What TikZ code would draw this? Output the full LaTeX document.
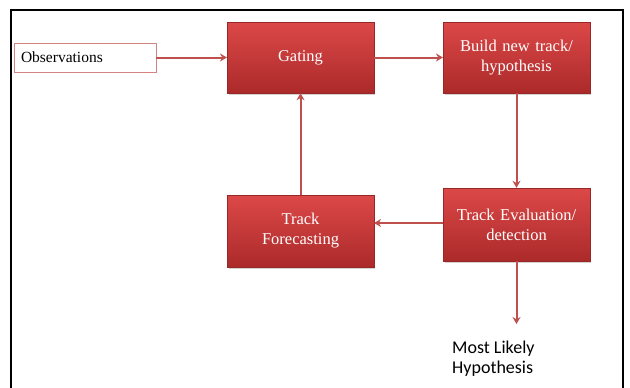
\documentclass[tikz,border=0pt]{standalone}
\usepackage{fontspec}
\setmainfont{Liberation Serif}
\newfontfamily\calfont{Carlito}
\usepackage{xcolor}
\usetikzlibrary{arrows.meta, shadows}

\definecolor{boxtop}{RGB}{220,72,72}
\definecolor{boxbot}{RGB}{172,42,42}
\definecolor{boxline}{RGB}{150,40,40}
\definecolor{linkred}{RGB}{192,80,77}

\begin{document}
\begin{tikzpicture}[x=1pt, y=-1pt]
    % Define the styles
    \tikzstyle{stage} = [rectangle, draw=boxline, thin, top color=boxtop, bottom color=boxbot, text=white, align=center, text width=140pt, minimum width=144pt, font=\fontsize{16.5}{20}\selectfont, drop shadow={opacity=0.35, shadow xshift=1.5pt, shadow yshift=-1.5pt}]
    \tikzstyle{line} = [draw=linkred, line width=2pt, -{Stealth[length=7pt, width=8pt]}]

    \useasboundingbox (0,0) rectangle (630,388);

    % Frame, open at the bottom
    \draw [line width=1.4pt] (11,400) -- (11,10) -- (623,10) -- (623,400);

    % Place the nodes
    \node [rectangle, draw=linkred!70, fill=white, minimum width=142pt, minimum height=29pt, text width=128pt, inner xsep=7pt, align=left, font=\fontsize{15.5}{18}\selectfont, drop shadow={opacity=0.25, shadow xshift=1pt, shadow yshift=-1pt}] (obs) at (85,57.5) {Observations};
    \node [stage, minimum height=71pt] (gating) at (300.5,57.5) {Gating};
    \node [stage, minimum height=71pt] (build) at (516.5,57.5) {Build new track/\\hypothesis};
    \node [stage, minimum height=73pt] (eval) at (516.5,224.5) {Track Evaluation/\\detection};
    \node [stage, minimum height=72pt] (forecast) at (300.5,231) {Track\\Forecasting};
    \node [anchor=base west, inner sep=0pt, align=left, font=\calfont\fontsize{18}{20}\selectfont] (likely) at (452,373) {Most Likely\\Hypothesis};
    \coordinate (likelytop) at (516.5,324);

    % Connect the nodes with paths
    \path [line] (obs) -- (gating);
    \path [line] (gating) -- (build);
    \path [line] (build) -- (eval);
    \path [line] (eval.west |- 0,223) -- (forecast.east |- 0,223);
    \path [line] (forecast) -- (gating);
    \path [line] (eval) -- (likelytop);

\end{tikzpicture}
\end{document}
